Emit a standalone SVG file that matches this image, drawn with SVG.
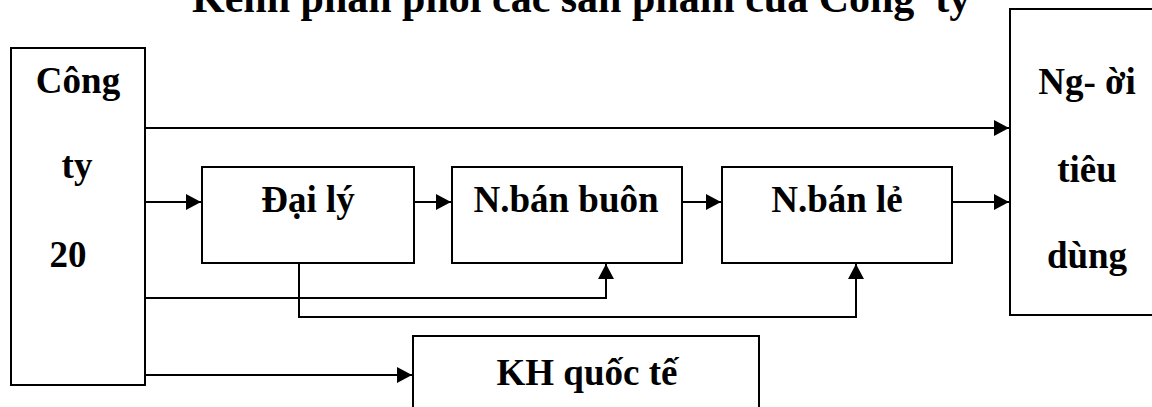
<svg xmlns="http://www.w3.org/2000/svg" width="1152" height="407" viewBox="0 0 1152 407">
  <style>
    .box { fill: #ffffff; stroke: #000000; stroke-width: 2; }
    .lbl { font-family: "Liberation Serif", "Times New Roman", "DejaVu Serif", serif; font-weight: bold; font-size: 37px; fill: #000000; text-anchor: middle; }
    .title { font-family: "Liberation Serif", "Times New Roman", "DejaVu Serif", serif; font-weight: bold; font-size: 42px; fill: #000000; white-space: pre; }
    .conn { fill: none; stroke: #000000; stroke-width: 2; }
  </style>
  <defs>
    <marker id="arrow" viewBox="0 0 15 16" refX="15" refY="8" markerWidth="15" markerHeight="16" markerUnits="userSpaceOnUse" orient="auto">
      <path d="M0,0 L15,8 L0,16 Z" fill="#000000"/>
    </marker>
  </defs>

  <rect width="1152" height="407" fill="#ffffff"/>

  <!-- title -->
  <text class="title" x="192" y="12" xml:space="preserve">Kênh phân phối các sản phẩm của Công  ty</text>

  <!-- company -->
  <g id="cong-ty">
    <rect class="box" x="11" y="48" width="134" height="337"/>
    <text class="lbl" x="78" y="93">Công</text>
    <text class="lbl" x="77" y="178">ty</text>
    <text class="lbl" x="68" y="267">20</text>
  </g>

  <!-- agent -->
  <g id="dai-ly">
    <rect class="box" x="202" y="167" width="212" height="96"/>
    <text class="lbl" x="308" y="212">Đại lý</text>
  </g>

  <!-- wholesaler -->
  <g id="ban-buon">
    <rect class="box" x="452" y="167" width="230" height="96"/>
    <text class="lbl" x="566" y="212">N.bán buôn</text>
  </g>

  <!-- retailer -->
  <g id="ban-le">
    <rect class="box" x="722" y="167" width="230" height="96"/>
    <text class="lbl" x="837" y="212">N.bán lẻ</text>
  </g>

  <!-- consumer -->
  <g id="nguoi-tieu-dung">
    <rect class="box" x="1010" y="9" width="160" height="306"/>
    <text class="lbl" x="1087" y="94">Ng- ời</text>
    <text class="lbl" x="1087" y="182">tiêu</text>
    <text class="lbl" x="1087" y="268">dùng</text>
  </g>

  <!-- international customers -->
  <g id="kh-quoc-te">
    <rect class="box" x="413" y="336" width="346" height="90"/>
    <text class="lbl" x="587" y="385">KH quốc tế</text>
  </g>

  <!-- connectors -->
  <g id="connectors">
    <path class="conn" d="M145,128 H1009" marker-end="url(#arrow)"/>
    <path class="conn" d="M145,202 H201" marker-end="url(#arrow)"/>
    <path class="conn" d="M414,202 H451" marker-end="url(#arrow)"/>
    <path class="conn" d="M682,202 H721" marker-end="url(#arrow)"/>
    <path class="conn" d="M952,202 H1009" marker-end="url(#arrow)"/>
    <path class="conn" d="M145,298 H606 V264" marker-end="url(#arrow)"/>
    <path class="conn" d="M299,263 V317 H856 V264" marker-end="url(#arrow)"/>
    <path class="conn" d="M145,375 H412" marker-end="url(#arrow)"/>
  </g>
</svg>
